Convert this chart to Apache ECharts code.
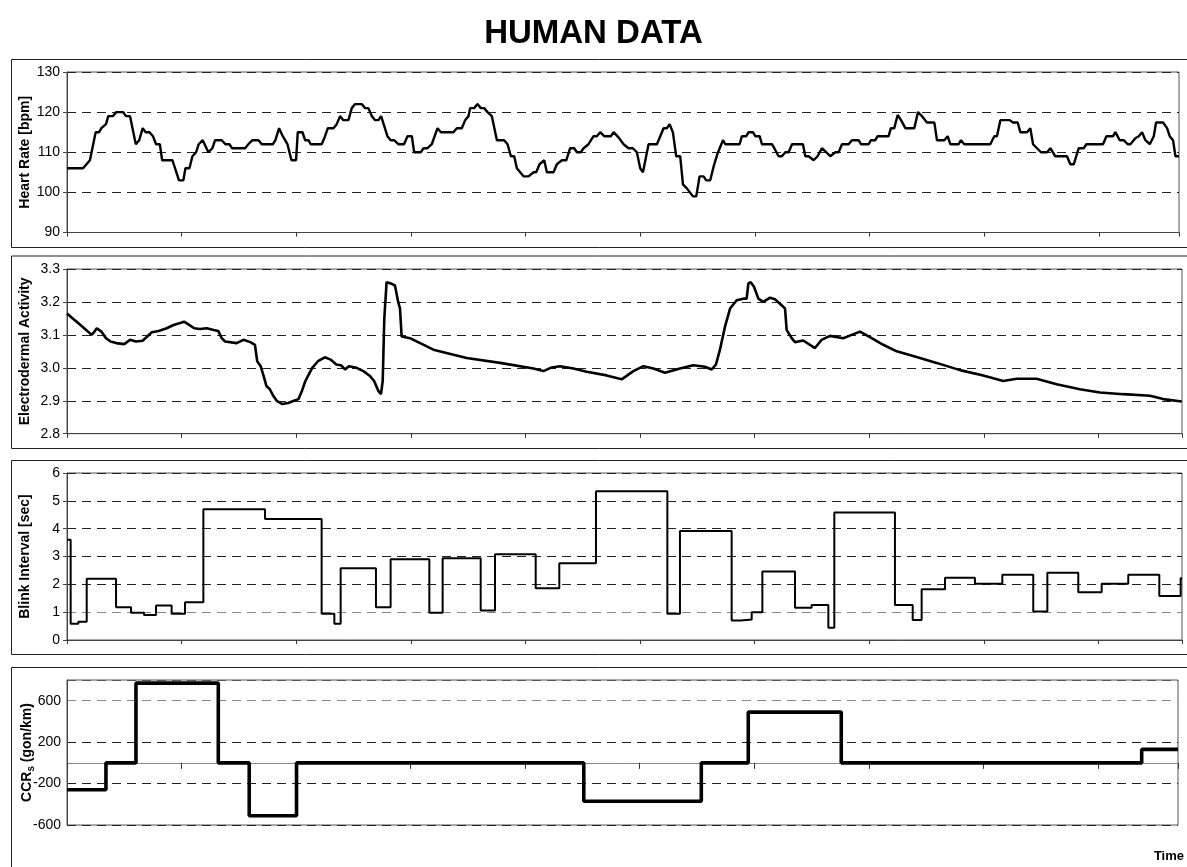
<!DOCTYPE html>
<html><head><meta charset="utf-8">
<script src="https://cdn.jsdelivr.net/npm/echarts@6/dist/echarts.min.js"></script>
<style>html,body{margin:0;padding:0;background:#fff}#c{width:1187px;height:867px}</style>
</head><body><div id="c"></div>
<script>
// ---- Heart rate [bpm] ----
const hrTime = [0,14,17,20,25,28,30,34,36,40,43,49,51.5,55,60,63,66,68.6,72,75,77.7,81,83,92,97.7,101.5,103.3,106.8,109.4,112.6,114.9,118.4,123.3,126.8,129.2,135,138.2,141.7,144,155.3,158.2,161.7,167,169.9,179.5,181.8,185,188.2,192.3,195.8,199.8,201.3,205.4,207.7,210.6,212.6,222.2,225.1,227.5,232.4,235.3,238.2,241.1,245.5,248.4,251.3,257.1,260,262.9,265.9,268.8,271.7,274,279.5,282.4,285.3,289,294,297,300.8,302.8,308.6,311,314.5,318.2,323.2,326.1,337.1,340,344.4,347.3,350.2,351.7,355.2,358.1,361,363.9,366.8,370.6,375,381.3,384.3,387.2,390.1,392.4,398.2,402.6,407,409.3,412.2,416.3,418.6,424.4,427.3,431.7,435.5,438.9,442.4,444.8,448.2,450.6,454.9,459.3,462.2,465.1,468.6,474.4,476.8,481.1,485.5,489.8,493.6,497.1,500,502.4,507.3,514.6,517.5,520.4,523.3,525.6,528.5,531.4,534.9,537.3,540.7,546,548.9,551.8,555.3,557.6,561.1,564,567.5,572.2,574.2,586.7,588.7,592.5,594.6,598.3,600.4,604.2,606.2,614.9,617,620.7,623.6,626.6,629.5,632.4,642,644,646.9,651.3,654.7,658.5,662.3,665.8,670.2,673.1,676,681.8,684.7,690.5,692.6,699.3,701.3,705.1,707.1,716.7,718.7,721.6,724.6,727.5,731.3,739.1,742.3,745.8,750.2,756.6,758.9,765.3,768.2,770.5,777.8,779.8,782.7,805.4,808.9,811.2,814.2,822.3,825.2,829.3,831.6,837.4,840.3,842.7,846.1,849.6,854.9,857.8,862.1,872.3,875.2,878.2,882.5,886.9,889.2,903.7,906.7,912.5,914.5,918.3,921.8,925.3,927.6,931.9,934.9,937.8,940.7,944.5,948,950,956.1,959.6,961.9,964.8,966.9,970];
const hrValue = [106,106,107,108,115,115,116,117,119,119,120,120,119,119,112,113,116,115,115,114,112,112,108,108,103,103,106,106,109,110,112,113,110,111,113,113,112,112,111,111,112,113,113,112,112,113,116,114,112,108,108,115,115,113,113,112,112,114,116,116,117,119,118,118,121,122,122,121,121,119,118,118,119,114,113,113,112,112,114,114,110,110,111,111,112,116,115,115,116,116,118,119,121,121,122,121,121,120,119,113,113,112,109,109,106,104,104,105,105,107,108,105,105,107,108,108,111,111,110,110,111,112,114,114,115,114,114,115,113.7,112,111,111,110,106,105,112,112,114,116,116,117,115,109,109,102,101,99,99,104,104,103,103,106.4,109.7,113,112,112,114,114,115,115,114,114,112,112,111,109,109,110,110,112,112,109,109,108,109,111,110,109,110,110,112,112,113,113,112,112,113,113,114,114,116,116,119.3,118,116,116,120,119,117.4,117.4,113,113,114,112,112,113,112,112,114,114,118,118,117.4,117.4,115,115,116,112,111,110,110,111,109,109,107,107,111,111,112,112,114,114,115,113,113,112,112,113.5,114,115,113,112,114,117.4,117.4,116,114,113,109,109];

// ---- Electrodermal activity ----
const edaTime = [0,5,10,15,21.5,24,26,30,34,38,43,50,53,55,60,66,70,74,80,87,93,98,102,106,111,116,122,128,132,135,138,148,154,160,164,166,169,172,174,177,180,183,188,193,198,202,205,208,211,214,219,225,230,235,239,242.6,246,252.8,258.6,264.4,268,271.7,274,275.5,276.9,278.9,280,283.3,286.2,289,290.6,292,299.3,319.7,348.8,377.9,407,415.7,422,430.2,441.9,453.5,470.9,484,494.2,503,511.7,521.8,534.9,546.6,556.7,562.6,566.3,569.8,574.2,578.6,584.4,590.2,593.1,594.6,596.6,599.5,603.3,607.6,613.5,617.8,623.6,626.6,628,632.4,635.3,642.5,652.7,658.5,665.8,677.4,684.7,692,700.7,712.3,724,741.4,758.9,779.2,799.6,817,828.7,846.1,863.6,883.9,901.4,921.8,945.1,956.7,972.7];
const edaValue = [3.165,3.15,3.135,3.12,3.10,3.11,3.12,3.11,3.09,3.08,3.075,3.072,3.08,3.085,3.08,3.082,3.095,3.108,3.112,3.12,3.13,3.135,3.14,3.132,3.12,3.118,3.12,3.115,3.112,3.09,3.08,3.075,3.085,3.078,3.07,3.02,3.005,2.97,2.945,2.935,2.915,2.9,2.89,2.893,2.90,2.905,2.93,2.96,2.98,3.0,3.02,3.032,3.025,3.01,3.008,2.995,3.005,3.0,2.99,2.975,2.96,2.93,2.92,2.96,3.15,3.26,3.265,3.255,3.25,3.20,3.18,3.095,3.09,3.055,3.03,3.015,2.998,2.99,3.0,3.005,2.998,2.988,2.977,2.965,2.99,3.005,2.998,2.985,2.998,3.008,3.003,2.995,3.01,3.055,3.125,3.18,3.205,3.21,3.21,3.256,3.26,3.246,3.21,3.2,3.213,3.208,3.19,3.18,3.115,3.09,3.078,3.083,3.06,3.085,3.097,3.09,3.1,3.11,3.093,3.07,3.05,3.033,3.015,2.993,2.977,2.96,2.967,2.967,2.95,2.935,2.925,2.92,2.915,2.905,2.898];

// ---- Blink interval [sec] (step starts) ----
const blinkTime = [0,3.2,9.9,17.2,42.8,55.9,67.2,77.7,91.3,103,119,172.8,222.2,233.3,238.8,269.6,282.4,316.2,327.8,361,373.5,409,429.6,461.6,523.9,534.9,580,587.9,597.5,606.8,635.3,649.8,664.4,669.6,722.5,738,745.8,766.2,792.3,816.2,843.2,855.5,882.5,902.9,926.1,953.2,971.8,973];
const blinkValue = [3.6,0.58,0.66,2.2,1.18,0.98,0.9,1.24,0.94,1.36,4.7,4.35,0.94,0.58,2.58,1.18,2.9,0.98,2.94,1.06,3.08,1.86,2.76,5.34,0.94,3.92,0.7,0.74,1.0,2.46,1.16,1.26,0.44,4.58,1.26,0.72,1.82,2.24,2.02,2.34,1.02,2.42,1.72,2.02,2.34,1.58,2.22,2.22];

// ---- CCRs (gon/km) (step starts) ----
const ccrTime = [0,34,60.2,132.1,159.1,200.4,451.2,553.8,594.8,676,938.3,970];
const ccrValue = [-260,0,770,0,-510,0,-370,0,490,0,130,130];

// ---- axis ticks ----
const hrTicks = {min: 90, max: 130, interval: 10};
const edaTicks = {min: 2.8, max: 3.3, interval: 0.1};
const blinkTicks = {min: 0, max: 6, interval: 1};
const ccrTicks = {min: -600, max: 800, interval: 400};
const timeInterval = 100;

const zip = (a, b) => a.map((t, i) => [t, b[i]]);
const FONT = 'Liberation Sans, Arial, sans-serif';

const grids = [
  {left: 67, right: 8, top: 72, height: 160.5},
  {left: 67, right: 5, top: 269, height: 164.7},
  {left: 67, right: 5, top: 473, height: 167},
  {left: 67, right: 9, top: 680, height: 145}
].map(g => Object.assign(g, {show: true, borderColor: '#555', borderWidth: 1, backgroundColor: 'transparent'}));

const xMax = [970, 973, 973, 970];
const xAxes = xMax.map((m, i) => ({
  type: 'value', gridIndex: i, min: 0, max: m, interval: timeInterval,
  axisLabel: {show: false},
  axisTick: {show: true, length: i === 3 ? 6 : 4, lineStyle: {color: '#333'}},
  axisLine: {show: true, onZero: i === 3, lineStyle: {color: i === 3 ? '#888' : '#444', width: 1}},
  splitLine: {show: false}
}));

function yAx(i, ticks, name, extra) {
  return Object.assign({
    type: 'value', gridIndex: i, min: ticks.min, max: ticks.max, interval: ticks.interval,
    name: name, nameLocation: 'middle', nameGap: 35, nameMoveOverlap: false,
    nameTextStyle: {fontFamily: FONT, fontWeight: 'bold', fontSize: 14, color: '#000'},
    axisLine: {show: true, lineStyle: {color: '#444'}},
    axisTick: {show: true, length: 4, lineStyle: {color: '#444'}},
    axisLabel: {fontFamily: FONT, fontSize: 14, color: '#000', margin: 7},
    splitLine: {show: true, lineStyle: {type: [9, 6], color: '#222', width: 1}}
  }, extra || {});
}

const yAxes = [
  yAx(0, hrTicks, 'Heart Rate [bpm]'),
  yAx(1, edaTicks, 'Electrodermal Activity', {axisLabel: {fontFamily: FONT, fontSize: 14, color: '#000', margin: 7, formatter: v => v.toFixed(1)}}),
  yAx(2, blinkTicks, 'Blink Interval [sec]', {splitLine: {show: true, lineStyle: {type: [9, 6], color: ['#222', '#888', '#222', '#222', '#222', '#222', '#222'], width: 1}}}),
  yAx(3, ccrTicks, 'CCR{s|s} (gon/km)', {
    nameGap: 31,
    nameTextStyle: {fontFamily: FONT, fontWeight: 'bold', fontSize: 14, color: '#000',
      rich: {s: {fontFamily: FONT, fontWeight: 'bold', fontSize: 10, color: '#000', padding: [7, 0, 0, 0]}}},
    axisTick: {show: false},
    axisLabel: {fontFamily: FONT, fontSize: 14, color: '#000', margin: 6, showMaxLabel: false},
    splitLine: {show: true, lineStyle: {type: [9, 6], color: ['#222', '#222', '#222', '#888', '#555'], width: 1}}
  })
];

const lineBase = {type: 'line', showSymbol: false, symbol: 'none', animation: false, silent: true};
const series = [
  Object.assign({}, lineBase, {xAxisIndex: 0, yAxisIndex: 0, data: zip(hrTime, hrValue), lineStyle: {color: '#000', width: 2.4}}),
  Object.assign({}, lineBase, {xAxisIndex: 1, yAxisIndex: 1, data: zip(edaTime, edaValue), lineStyle: {color: '#000', width: 2.6}}),
  Object.assign({}, lineBase, {xAxisIndex: 2, yAxisIndex: 2, step: 'end', data: zip(blinkTime, blinkValue), lineStyle: {color: '#000', width: 2}}),
  Object.assign({}, lineBase, {xAxisIndex: 3, yAxisIndex: 3, step: 'end', data: zip(ccrTime, ccrValue), lineStyle: {color: '#000', width: 3.6}})
];

const boxes = [[11, 59, 188], [11, 255.5, 192.5], [11, 460, 194], [11, 667, 230]];
const graphic = boxes.map(b => ({type: 'rect', silent: true, z: -10,
  shape: {x: b[0] + 0.5, y: b[1] + 0.5, width: 1190, height: b[2]},
  style: {fill: 'none', stroke: '#222', lineWidth: 1}}));
graphic.push({type: 'text', right: 3, top: 850, style: {text: 'Time', font: 'bold 13px ' + FONT, fill: '#000'}});

const chart = echarts.init(document.getElementById('c'), null, {renderer: 'canvas'});
chart.setOption({
  backgroundColor: '#fff',
  animation: false,
  title: {text: 'HUMAN DATA', left: 'center', top: 12,
    textStyle: {fontFamily: FONT, fontWeight: 'bold', fontSize: 33, color: '#000'}},
  grid: grids, xAxis: xAxes, yAxis: yAxes, series: series, graphic: graphic
});
</script></body></html>
